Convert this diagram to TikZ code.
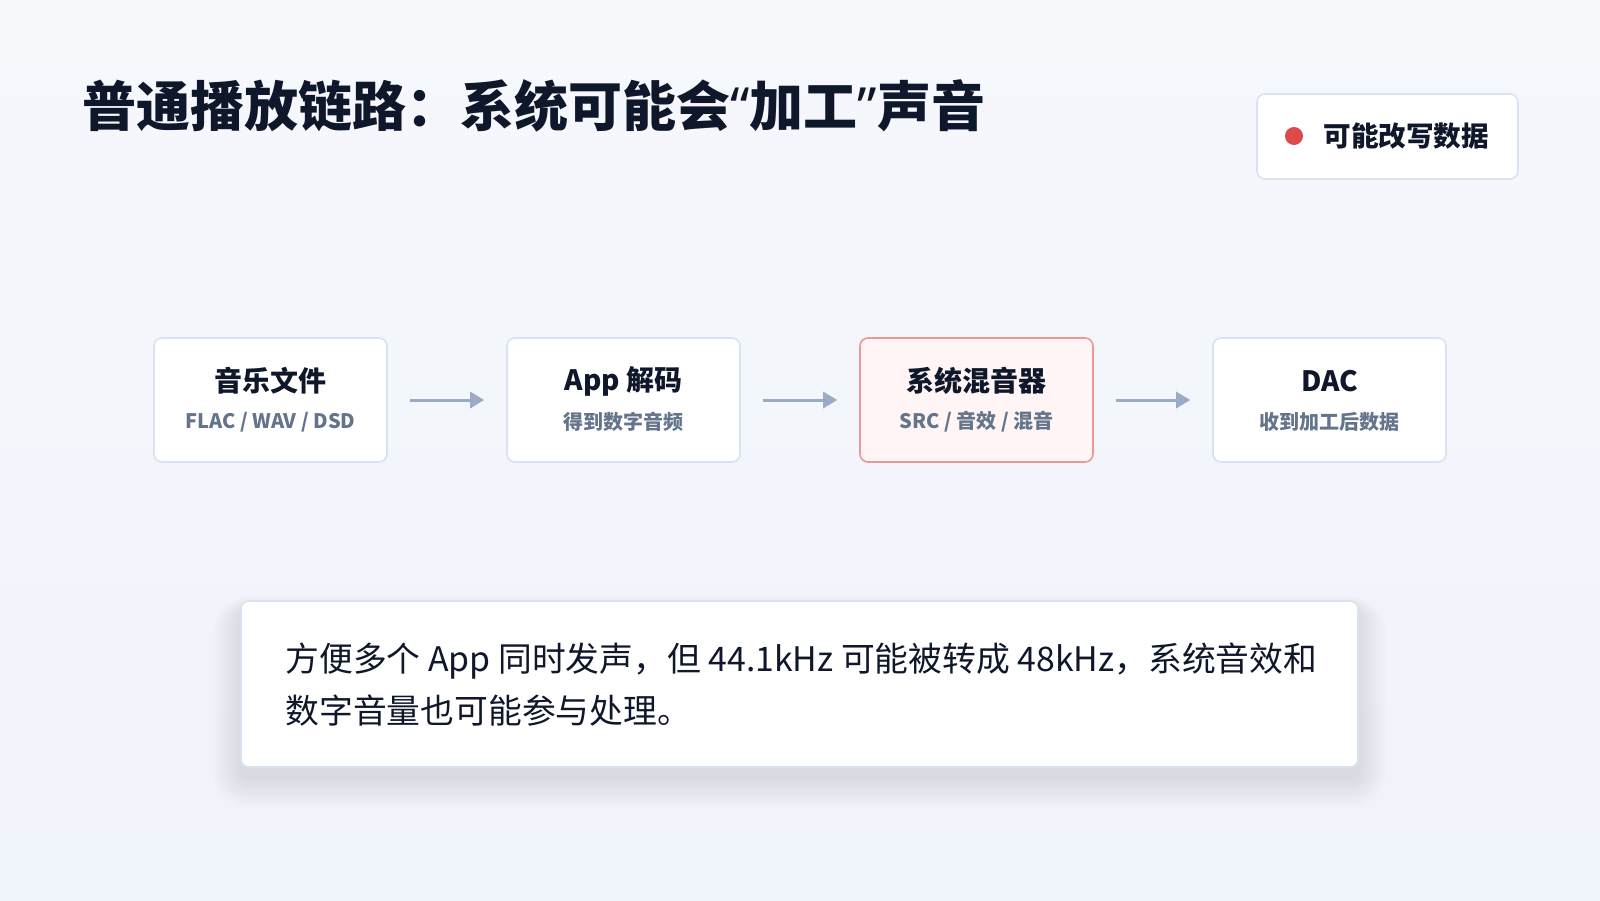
\documentclass[tikz,border=0pt]{standalone}
\usepackage{fontspec}
\setmainfont{Noto Sans CJK SC}
\newfontfamily\latinfont{Noto Sans}
\usetikzlibrary{arrows.meta}
\definecolor{ink}{HTML}{0F172A}
\definecolor{subink}{HTML}{64748B}
\definecolor{edge}{HTML}{D9E3EF}
\definecolor{flowc}{HTML}{9BABC5}
\definecolor{alert}{HTML}{DC4A4A}
\definecolor{alertedge}{HTML}{EE9896}
\definecolor{alertfill}{HTML}{FEF5F4}
\definecolor{bgtop}{HTML}{F6F8FC}
\definecolor{bgbot}{HTML}{EFF3FA}
\definecolor{shadowc}{HTML}{8FA3C0}

\begin{document}
\begin{tikzpicture}[x=0.5pt, y=-0.5pt, >={Triangle[length=7pt,width=8pt]},
		stage/.style={draw=edge, line width=0.8pt, fill=white, rounded corners=4pt, minimum width=116.5pt, minimum height=62pt, inner sep=0pt},
		stagetitle/.style={text=ink, font=\fontsize{14}{16}\selectfont\bfseries, inner sep=0pt},
		stagesub/.style={text=subink, font=\fontsize{10}{12}\selectfont\bfseries, inner sep=0pt},
		flow/.style={->, draw=flowc, line width=1.5pt, shorten <=11pt, shorten >=11pt}]
		\shade[top color=bgtop, bottom color=bgbot] (0,0) rectangle (1600,900);
		\useasboundingbox (0,0) rectangle (1600,900);
		\node[anchor=west, text=ink, inner sep=0pt, font=\fontsize{27}{32}\selectfont\bfseries] (title) at (82,106) {普通播放链路：系统可能会{\latinfont\bfseries “}加工{\latinfont\bfseries ”}声音};
		\node[draw=edge, line width=0.8pt, fill=white, rounded corners=4pt, minimum width=130.5pt, minimum height=42.5pt] (legend) at (1387.5,136.5) {};
		\node[circle, fill=alert, minimum size=9pt, inner sep=0pt] (dot) at (1294,136) {};
		\node[anchor=west, text=ink, inner sep=0pt, font=\fontsize{13.8}{16}\selectfont\bfseries] (legendtext) at (1323,136) {可能改写数据};
		\node[stage] (file) at (270.5,400) {};
		\node[stage] (app) at (623.5,400) {};
		\node[stage, draw=alertedge, fill=alertfill] (mixer) at (976.5,400) {};
		\node[stage] (dac) at (1329.5,400) {};
		\node[stagetitle] at (270.5,381) {音乐文件};
		\node[stagesub] at (270.5,422) {FLAC / WAV / DSD};
		\node[stagetitle] at (623.5,381) {App 解码};
		\node[stagesub] at (623.5,422) {得到数字音频};
		\node[stagetitle] at (976.5,381) {系统混音器};
		\node[stagesub] at (976.5,422) {SRC / 音效 / 混音};
		\node[stagetitle] at (1329.5,381) {DAC};
		\node[stagesub] at (1329.5,422) {收到加工后数据};
		\draw[flow] (file) -- (app);
		\draw[flow] (app) -- (mixer);
		\draw[flow] (mixer) -- (dac);
		\foreach \i in {1,...,24}
			\fill[shadowc, opacity=0.007, rounded corners=4pt+\i*0.6pt] (241-\i*1.2,611-\i*0.6) rectangle (1358+\i*1.2,777+\i*1.3);
		\node[draw=edge, line width=0.8pt, fill=white, rounded corners=4pt, minimum width=558.5pt, minimum height=83pt] (note) at (799.5,684) {};
		\node[anchor=west, align=left, text=ink, inner sep=0pt, font=\fontsize{16.9}{26}\selectfont] (notetext) at (285,685) {方便多个 App 同时发声，但 44.1kHz 可能被转成 48kHz，系统音效和\\数字音量也可能参与处理。};
	\end{tikzpicture}
\end{document}
